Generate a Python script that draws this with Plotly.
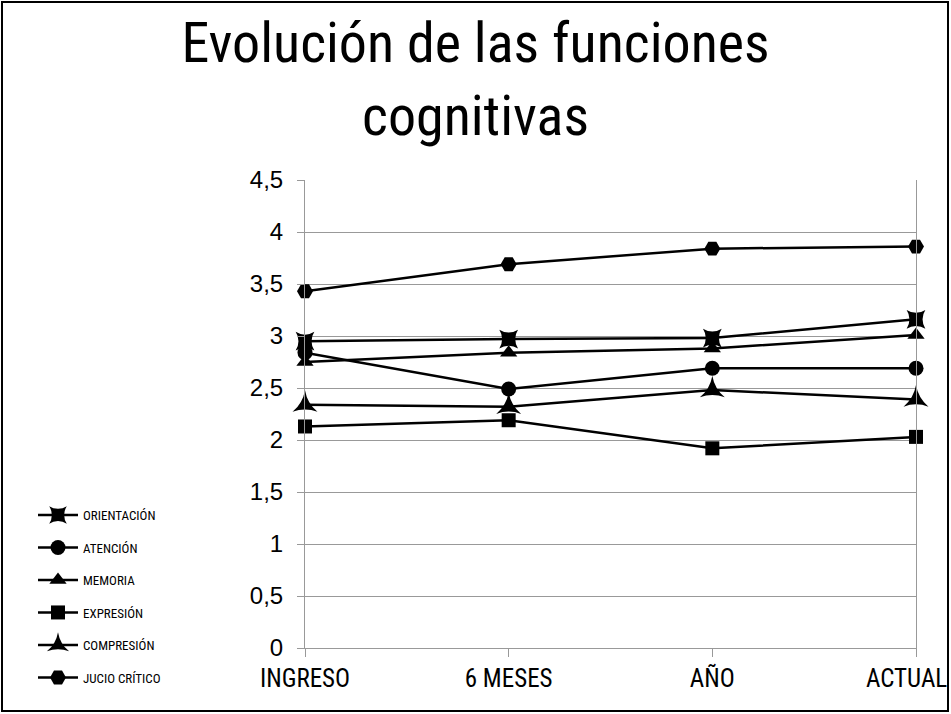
import plotly.graph_objects as go

categories = ["INGRESO", "6 MESES", "AÑO", "ACTUAL"]
series_names = ["ORIENTACIÓN", "ATENCIÓN", "MEMORIA", "EXPRESIÓN", "COMPRESIÓN", "JUCIO CRÍTICO"]
orientacion = [2.95, 2.97, 2.98, 3.16]
atencion = [2.84, 2.49, 2.69, 2.69]
memoria = [2.75, 2.84, 2.88, 3.01]
expresion = [2.13, 2.19, 1.92, 2.03]
compresion = [2.34, 2.32, 2.48, 2.39]
jucio_critico = [3.43, 3.69, 3.84, 3.86]
y_ticks = [0, 0.5, 1, 1.5, 2, 2.5, 3, 3.5, 4, 4.5]

series_values = [orientacion, atencion, memoria, expresion, compresion, jucio_critico]
symbols = ["star-square", "circle", "triangle-up", "square", "star-triangle-up", "hexagon2"]
sizes = [17, 15, 15, 14, 18, 16]

COND = "Roboto Condensed, Liberation Sans"

W, H = 951, 714
L, R, T, B = 305, 35, 180, 66
pw, ph = W - L - R, H - T - B

xs = list(range(len(categories)))
# the last category label is right-aligned inside the frame (as in the reference),
# so it is drawn as an annotation at its tick instead of a centred tick label
tick_text = categories[:-1] + [""]

fig = go.Figure()
for i, (name, vals) in enumerate(zip(series_names, series_values)):
    fig.add_trace(go.Scatter(
        x=xs, y=vals, name=name, mode="lines+markers",
        line=dict(color="black", width=2.5),
        marker=dict(symbol=symbols[i], size=sizes[i], color="black"),
        cliponaxis=False, legendgroup=name,
    ))

def px_x(p):
    return (p - L) / pw

def px_y(p):
    return (H - B - p) / ph

fig.add_shape(type="rect", xref="paper", yref="paper",
              x0=px_x(2), x1=px_x(948), y0=px_y(711), y1=px_y(2),
              line=dict(color="black", width=2), fillcolor="rgba(0,0,0,0)")

fig.add_annotation(x=xs[-1], xref="x", y=px_y(678), yref="paper",
                   text=categories[-1], showarrow=False, xanchor="right",
                   yanchor="middle", xshift=33,
                   font=dict(family=COND, size=25, color="black"))

fig.update_layout(
    width=W, height=H, separators=",.",
    margin=dict(l=L, r=R, t=T, b=B, autoexpand=False),
    paper_bgcolor="white", plot_bgcolor="white",
    title=dict(text="Evolución de las funciones<br>cognitivas", x=0.5, xref="container",
               xanchor="center", y=0.913, yanchor="top",
               font=dict(family=COND, size=56, color="black")),
    xaxis=dict(range=[0, 3], tickmode="array", tickvals=xs,
               ticktext=tick_text, showgrid=False, showline=True, linecolor="#999999",
               linewidth=1, ticks="outside", ticklen=8, tickcolor="#999999",
               tickfont=dict(family=COND, size=25, color="black"),
               zeroline=False, automargin=False),
    yaxis=dict(range=[0, 4.5], tickvals=y_ticks, showgrid=True, gridcolor="#999999",
               gridwidth=1, showline=True, mirror=True, linecolor="#999999", linewidth=1,
               ticks="outside", ticklen=7, tickcolor="#999999", zeroline=False,
               ticklabelstandoff=9, automargin=False,
               tickfont=dict(family="Liberation Sans", size=24, color="black")),
    legend=dict(x=px_x(33), y=px_y(500), xanchor="left", yanchor="top",
                font=dict(family=COND, size=13, color="black"),
                tracegroupgap=12.6, itemwidth=40, bgcolor="rgba(0,0,0,0)"),
)

fig.write_html("out.html", config={"displayModeBar": False},
               post_script="document.body.style.margin='0';")
